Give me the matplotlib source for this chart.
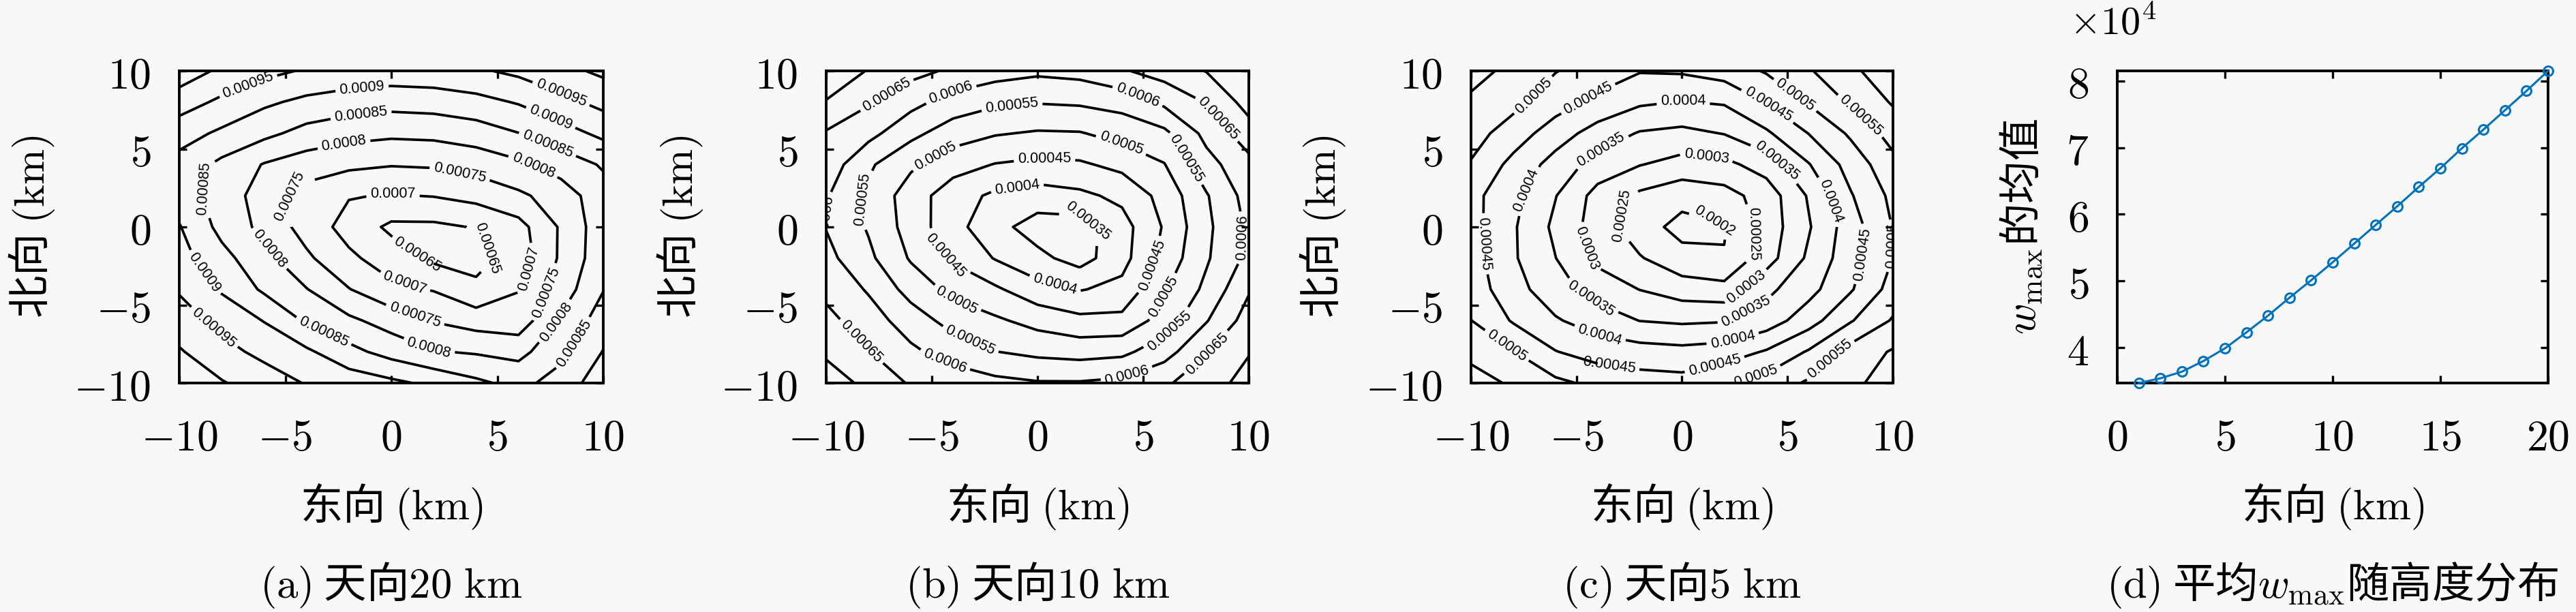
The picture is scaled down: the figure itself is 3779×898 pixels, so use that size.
import numpy as np
import matplotlib
matplotlib.use('Agg')
import matplotlib.pyplot as plt

plt.rcParams['mathtext.fontset'] = 'cm'
plt.rcParams['font.family'] = ['Noto Sans CJK SC', 'DejaVu Sans']

# grid nodes in km (rows of the grids go from north=10 down to north=-10)
east = [-10, -8, -6, -4, -2, 0, 2, 4, 6, 8, 10]
north = [10, 8, 6, 4, 2, 0, -2, -4, -6, -8, -10]

# (a) 天向20 km, unit 1e-4
grid_20km = [
    [10.30, 9.90, 9.64, 9.45, 9.35, 9.30, 9.33, 9.43, 9.61, 9.86, 10.10],
    [9.73, 9.40, 9.09, 8.88, 8.75, 8.68, 8.72, 8.84, 9.04, 9.35, 9.65],
    [9.21, 8.91, 8.63, 8.33, 8.17, 8.10, 8.13, 8.25, 8.49, 8.79, 9.12],
    [8.82, 8.38, 7.97, 7.74, 7.61, 7.53, 7.56, 7.69, 7.90, 8.24, 8.55],
    [8.78, 8.26, 7.79, 7.31, 7.03, 6.97, 7.02, 7.16, 7.41, 7.72, 8.32],
    [9.03, 8.35, 7.86, 7.30, 6.81, 6.40, 6.40, 6.53, 6.82, 7.56, 8.30],
    [9.18, 8.66, 8.16, 7.59, 7.10, 6.75, 6.40, 6.35, 6.70, 7.58, 8.32],
    [9.45, 8.94, 8.42, 8.02, 7.52, 7.12, 6.97, 6.60, 6.98, 7.73, 8.48],
    [9.73, 9.35, 8.98, 8.43, 8.10, 7.79, 7.47, 7.28, 7.20, 8.07, 8.75],
    [10.05, 9.66, 9.37, 9.09, 8.65, 8.31, 8.03, 7.95, 7.85, 8.36, 9.02],
    [10.30, 10.04, 9.75, 9.47, 9.29, 9.11, 8.89, 8.60, 8.35, 8.71, 9.30],
]

# (b) 天向10 km
grid_10km = [
    [7.25, 6.98, 6.66, 6.42, 6.22, 6.10, 6.17, 6.45, 6.71, 7.02, 7.48],
    [6.98, 6.55, 6.16, 5.79, 5.59, 5.53, 5.57, 5.68, 6.11, 6.53, 7.20],
    [6.45, 6.16, 5.64, 5.24, 5.04, 4.95, 4.97, 5.18, 5.38, 6.15, 6.77],
    [6.30, 5.58, 5.09, 4.70, 4.48, 4.39, 4.43, 4.64, 4.98, 5.82, 6.35],
    [6.05, 5.40, 4.75, 4.23, 3.90, 3.77, 3.89, 4.12, 4.67, 5.46, 6.20],
    [5.98, 5.45, 4.79, 4.18, 3.66, 3.28, 3.27, 3.80, 4.55, 5.39, 6.09],
    [6.15, 5.61, 4.95, 4.43, 3.97, 3.63, 3.30, 3.82, 4.67, 5.44, 6.13],
    [6.37, 5.95, 5.31, 4.86, 4.58, 4.18, 3.97, 4.14, 4.94, 5.62, 6.45],
    [6.65, 6.23, 5.76, 5.31, 5.08, 4.83, 4.64, 4.64, 5.22, 5.97, 6.72],
    [6.90, 6.52, 6.10, 5.78, 5.51, 5.38, 5.31, 5.38, 5.79, 6.47, 6.97],
    [7.30, 6.85, 6.45, 6.30, 6.14, 6.04, 6.04, 6.12, 6.43, 6.78, 7.18],
]

# (c) 天向5 km
grid_5km = [
    [5.70, 5.35, 5.02, 4.78, 4.53, 4.56, 4.72, 5.05, 5.45, 5.90, 6.30],
    [5.40, 5.15, 4.73, 4.37, 4.08, 3.98, 4.05, 4.52, 5.05, 5.57, 6.05],
    [5.20, 4.76, 4.24, 3.79, 3.46, 3.37, 3.52, 3.92, 4.51, 5.08, 5.70],
    [4.96, 4.35, 3.81, 3.30, 3.02, 2.82, 2.87, 3.22, 3.97, 4.70, 5.35],
    [4.65, 4.15, 3.52, 2.82, 2.40, 2.16, 2.31, 2.72, 3.55, 4.46, 5.12],
    [4.68, 4.06, 3.39, 2.77, 2.20, 1.85, 1.96, 2.71, 3.45, 4.27, 5.02],
    [4.70, 4.06, 3.51, 2.88, 2.54, 2.15, 2.03, 2.78, 3.59, 4.31, 5.01],
    [4.78, 4.18, 3.72, 3.28, 2.99, 2.76, 2.67, 3.38, 3.83, 4.45, 5.20],
    [5.01, 4.45, 4.05, 3.77, 3.49, 3.42, 3.46, 3.73, 4.28, 4.96, 5.55],
    [5.30, 5.02, 4.52, 4.27, 4.21, 4.15, 4.23, 4.55, 5.05, 5.70, 6.05],
    [5.80, 5.40, 5.11, 4.88, 4.72, 4.68, 4.97, 5.20, 5.57, 5.85, 6.30],
]

# (d) mean w_max against height
height_km = [1, 2, 3, 4, 5, 6, 7, 8, 9, 10, 11, 12, 13, 14, 15, 16, 17, 18, 19, 20]
w_mean = [3.47, 3.54, 3.64, 3.80, 3.99, 4.23, 4.48, 4.75, 5.01, 5.28,
          5.56, 5.84, 6.12, 6.41, 6.69, 6.99, 7.27, 7.56, 7.85, 8.15]  # x1e4

levels_a = [0.00065, 0.0007, 0.00075, 0.0008, 0.00085, 0.0009, 0.00095, 0.001]
levels_b = [0.00035, 0.0004, 0.00045, 0.0005, 0.00055, 0.0006, 0.00065, 0.0007]
levels_c = [0.0002, 0.00025, 0.0003, 0.00035, 0.0004, 0.00045, 0.0005, 0.00055, 0.0006]

# where the labels sit in the reference
labels_a = [(-6.75, 9.06), (8.01, 8.55), (-8.46, -6.59),
            (-1.38, 8.91), (7.53, 7.03), (-8.79, -2.9),
            (-1.43, 7.17), (7.37, 5.29), (-8.68, 2.39), (-3.26, -6.88), (8.9, -7.68),
            (-2.24, 5.36), (6.67, 3.84), (-5.73, -1.38), (1.79, -7.68), (7.9, -6.23),
            (-4.98, 1.96), (3.24, 3.48), (1.14, -5.58), (7.32, -4.2),
            (0.08, 2.1), (6.5, -2.68), (0.65, -3.48),
            (4.9, -1.05), (1.25, -1.74)]
labels_b = [(-7.17, 8.55), (8.58, 7.02), (-8.49, -7.53), (8.03, -8.11),
            (-4.12, 8.62), (4.74, 8.4), (-9.74, 0.4), (9.61, -0.69), (-4.47, -8.84), (4.28, -9.7),
            (-1.21, 7.7), (6.97, 4.33), (-8.18, 1.78), (-3.16, -7.16), (6.18, -6.58),
            (-4.84, 4.55), (3.95, 5.2), (-3.88, -4.84), (6.05, -4.55),
            (0.33, 4.37), (-4.25, -1.75), (5.5, -2.51),
            (-0.95, 2.47), (0.79, -3.82),
            (2.37, 0.33)]
labels_c = [(8.44, 7.1), (6.9, -8.33),
            (-6.96, 8.33), (5.34, 8.41), (-8.35, -7.68), (3.47, -9.35), (9.74, -1.23),
            (-4.5, 8.33), (4.09, 7.83), (-9.47, -1.09), (8.42, -1.74), (-3.47, -8.91), (1.55, -8.84),
            (0.06, 8.12), (-7.36, 2.32), (7.06, 1.67), (-3.93, -7.06), (2.44, -7.39),
            (-3.86, 5.0), (4.52, 4.28), (-4.39, -4.74), (3.14, -5.72),
            (1.16, 4.49), (-4.61, -1.38), (3.2, -4.06),
            (-3.14, 0.87), (3.4, -0.43),
            (1.62, 0.72)]

bg = '#f8f8f8'
W, H = 3780, 898
fig = plt.figure(figsize=(W / 100, H / 100), dpi=100, facecolor=bg)

tick_size = 46
text_size = 45
cjk = ['Noto Sans CJK SC', 'DejaVu Sans']


def make_axes(left, right, top=104, bottom=562):
    ax = fig.add_axes([left / W, 1 - bottom / H, (right - left) / W, (bottom - top) / H])
    ax.set_facecolor(bg)
    for sp in ax.spines.values():
        sp.set_linewidth(2.8)
    ax.tick_params(direction='in', length=8, width=2.4, top=True, right=True)
    ax.tick_params(axis='x', pad=34)
    ax.tick_params(axis='y', pad=30)
    return ax


def set_ticks(ax, xt, yt, ylab=None):
    ax.set_xticks(xt)
    ax.set_xticklabels(['$%g$' % v for v in xt], fontsize=tick_size)
    ax.set_yticks(yt)
    ax.set_yticklabels(ylab if ylab else ['$%g$' % v for v in yt], fontsize=tick_size)


xs = np.array(east)
ys = np.array(north)[::-1]
panels = [
    (grid_20km, levels_a, levels_a[:-1], labels_a, 263, 885),
    (grid_10km, levels_b, levels_b[:-1], labels_b, 1212, 1832),
    (grid_5km, levels_c, levels_c, labels_c, 2158, 2777),
]
for grid, lev, lablev, lpos, l, r in panels:
    ax = make_axes(l, r)
    z = (np.array(grid) * 1e-4)[::-1]
    cs = ax.contour(xs, ys, z, levels=lev, colors='k', linewidths=2.7)
    with plt.rc_context({'font.family': 'Liberation Sans'}):
        ax.clabel(cs, levels=lablev, inline=True, fmt='%g', fontsize=15.5,
                  inline_spacing=6, manual=lpos)
    ax.set_xlim(-10, 10)
    ax.set_ylim(-10, 10)
    ticks = [-10, -5, 0, 5, 10]
    set_ticks(ax, ticks, ticks)

# (d)
axd = make_axes(3106, 3738)
wv = np.array(w_mean) * 1e4
axd.plot(height_km, wv, '-o', color='#0072BD', lw=2.2, ms=10, mfc='none', mew=2.2,
         clip_on=False, zorder=3)
axd.set_xlim(0, 20)
axd.set_ylim(wv.min(), wv.max())
set_ticks(axd, [0, 5, 10, 15, 20], [40000, 50000, 60000, 70000, 80000],
          ['$4$', '$5$', '$6$', '$7$', '$8$'])
fig.text(3100 / W, 1 - 35 / H, r'$\times10^{4}$', ha='center', va='center', fontsize=42)

# axis labels and captions
centers = [574, 1522, 2467, 3422]
ylab_x = [47, 997, 1941, 2966]
captions = [r'$(\mathrm{a})$ 天向$20\ \mathrm{km}$',
            r'$(\mathrm{b})$ 天向$10\ \mathrm{km}$',
            r'$(\mathrm{c})$ 天向$5\ \mathrm{km}$',
            r'$(\mathrm{d})$ 平均$w_{\max}$随高度分布']
ylabels = [r'北向 $(\mathrm{km})$'] * 3 + [r'$w_{\max}$的均值']
for cx, yx, cap, yl in zip(centers, ylab_x, captions, ylabels):
    fig.text(cx / W, 1 - 762 / H, r'东向 $(\mathrm{km})$', ha='center', va='baseline',
             fontsize=text_size, family=cjk)
    fig.text(cx / W, 1 - 877 / H, cap, ha='center', va='baseline',
             fontsize=text_size, family=cjk)
    fig.text(yx / W, 1 - 333 / H, yl, ha='center', va='center', rotation=90,
             fontsize=text_size, family=cjk)

fig.savefig('out.png', dpi=100, facecolor=bg)
